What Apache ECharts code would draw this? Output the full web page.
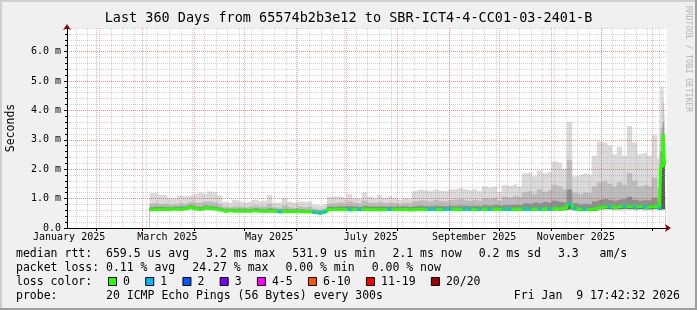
<!DOCTYPE html>
<html><head><meta charset="utf-8">
<script src="https://cdn.jsdelivr.net/npm/echarts@6/dist/echarts.min.js"></script>
<style>html,body{margin:0;padding:0;background:#f0f0f0}#c{width:697px;height:310px}</style>
</head><body><div id="c"></div>
<script>
// ---------------- data ----------------
const DAY = 86400000;
const startTime = Date.UTC(2025, 0, 14, 17, 42, 32);
const endTime = Date.UTC(2026, 0, 9, 17, 42, 32);
const firstSampleDay = 49.5;      // days after start of first sample
const sampleStepDays = 3;
const tailDays = [357.0, 358.2, 359.0];

// max ping (top of light smoke), milliseconds
const hiRtt = [1.18,1.18,1.12,1.12,1.02,1.00,1.10,1.08,1.10,1.15,
 1.20,1.15,1.23,1.20,1.10,0.88,0.85,0.95,0.90,0.85,
 0.88,0.95,0.90,0.92,1.12,0.85,0.85,1.00,0.88,0.85,
 0.90,0.88,0.90,0.78,0.75,0.80,1.05,1.07,1.05,1.00,
 1.14,1.00,0.98,1.20,1.05,1.00,1.12,1.02,1.08,1.00,
 0.95,1.00,0.98,1.25,1.30,1.28,1.25,1.30,1.26,1.25,
 1.30,1.30,1.35,1.30,1.28,1.32,1.25,1.40,1.38,1.40,
 1.22,1.45,1.42,1.48,1.40,1.85,1.88,1.75,1.95,1.85,
 1.90,2.25,2.20,2.00,3.60,1.75,1.80,1.85,1.80,2.45,
 2.93,2.90,2.80,2.50,2.75,2.45,3.45,2.90,2.50,2.55,
 2.45,3.15,2.35,
 4.80,4.80,3.40];
// upper edge of medium-gray smoke
const midRtt = [0.82,0.84,0.80,0.82,0.78,0.80,0.84,0.82,0.88,0.85,
 0.86,0.88,0.90,0.86,0.80,0.72,0.70,0.74,0.72,0.70,
 0.72,0.76,0.72,0.72,0.82,0.70,0.68,0.76,0.70,0.68,
 0.72,0.70,0.72,0.65,0.62,0.66,0.82,0.84,0.86,0.82,
 0.90,0.84,0.82,0.92,0.85,0.84,0.88,0.84,0.86,0.84,
 0.82,0.85,0.83,0.90,0.94,0.92,0.90,0.95,0.92,0.90,
 0.94,0.95,0.98,0.94,0.92,0.96,0.92,1.00,0.98,1.02,
 0.92,1.05,1.02,1.08,1.05,1.20,1.25,1.15,1.30,1.22,
 1.28,1.45,1.40,1.30,2.30,1.20,1.15,1.20,1.18,1.40,
 1.55,1.60,1.50,1.40,1.55,1.45,1.85,1.60,1.40,1.45,
 1.40,1.70,1.35,
 3.40,4.30,3.00];
// upper edge of dark smoke
const darkRtt = [0.70,0.71,0.72,0.71,0.70,0.72,0.72,0.73,0.78,0.73,
 0.71,0.76,0.74,0.72,0.68,0.64,0.65,0.64,0.65,0.64,
 0.64,0.66,0.64,0.63,0.66,0.63,0.62,0.63,0.62,0.63,
 0.62,0.61,0.61,0.59,0.57,0.61,0.72,0.71,0.73,0.72,
 0.74,0.72,0.71,0.75,0.72,0.72,0.73,0.72,0.73,0.72,
 0.72,0.73,0.71,0.74,0.75,0.74,0.73,0.75,0.74,0.73,
 0.75,0.74,0.76,0.75,0.74,0.75,0.74,0.77,0.75,0.78,
 0.75,0.78,0.77,0.79,0.78,0.84,0.82,0.86,0.83,0.88,
 0.85,0.92,0.88,0.86,1.30,0.84,0.80,0.82,0.80,0.90,
 0.95,0.98,0.94,0.92,0.96,0.98,1.05,0.95,0.92,0.94,
 0.93,1.02,0.90,
 2.60,3.60,2.50];
// median rtt
const medRtt = [0.62,0.63,0.64,0.64,0.64,0.65,0.64,0.66,0.70,0.66,
 0.64,0.68,0.66,0.65,0.62,0.58,0.59,0.58,0.58,0.58,
 0.58,0.59,0.58,0.57,0.58,0.57,0.55,0.56,0.56,0.56,
 0.56,0.55,0.55,0.53,0.51,0.55,0.63,0.63,0.64,0.63,
 0.62,0.63,0.63,0.64,0.63,0.63,0.62,0.63,0.63,0.64,
 0.63,0.63,0.62,0.63,0.64,0.63,0.63,0.64,0.63,0.63,
 0.64,0.64,0.63,0.64,0.64,0.63,0.64,0.64,0.63,0.65,
 0.64,0.64,0.63,0.64,0.65,0.64,0.64,0.65,0.64,0.65,
 0.64,0.66,0.65,0.67,0.80,0.66,0.63,0.64,0.63,0.65,
 0.70,0.71,0.72,0.70,0.72,0.73,0.72,0.71,0.72,0.70,
 0.71,0.73,0.67,
 2.10,3.20,2.10];
// min ping (bottom of smoke)
const loRtt = [0.57,0.58,0.59,0.59,0.59,0.60,0.59,0.60,0.63,0.60,
 0.59,0.62,0.60,0.60,0.57,0.53,0.54,0.53,0.53,0.53,
 0.53,0.54,0.53,0.52,0.53,0.52,0.50,0.51,0.51,0.51,
 0.51,0.50,0.50,0.48,0.46,0.50,0.58,0.58,0.59,0.58,
 0.57,0.58,0.58,0.59,0.58,0.58,0.57,0.58,0.58,0.59,
 0.58,0.58,0.57,0.58,0.59,0.58,0.58,0.59,0.58,0.58,
 0.59,0.59,0.58,0.59,0.59,0.58,0.59,0.59,0.58,0.59,
 0.58,0.59,0.58,0.58,0.59,0.58,0.58,0.59,0.58,0.59,
 0.58,0.59,0.58,0.60,0.62,0.59,0.57,0.58,0.57,0.58,
 0.62,0.63,0.63,0.62,0.63,0.64,0.63,0.62,0.63,0.62,
 0.62,0.64,0.60,
 0.62,0.62,0.62];
// lost pings out of 20
const lossCount = [0,0,0,0,0,0,0,0,0,0,
 0,0,0,0,0,0,0,0,0,0,
 0,0,0,0,0,0,1,0,0,0,
 0,0,0,1,1,1,0,0,0,0,
 1,0,1,0,0,0,0,0,1,0,
 0,0,0,0,0,0,1,1,0,1,
 1,0,0,1,1,0,1,0,1,0,
 0,1,1,0,0,1,1,0,1,0,
 1,0,0,0,1,1,0,1,0,0,
 0,0,1,0,0,1,0,1,0,1,
 0,0,1,
 0,0,0];

const lossLabels = ['0','1','2','3','4-5','6-10','11-19','20/20'];
const lossColors = ['#26ff00','#00b8ff','#0059ff','#7e00ff','#ff00ff','#ff5500','#ff0000','#a10000'];

const xLabelDates = [Date.UTC(2025,0,16), Date.UTC(2025,2,16), Date.UTC(2025,4,16),
                     Date.UTC(2025,6,16), Date.UTC(2025,8,16), Date.UTC(2025,10,16)];
const xLabels = ['January 2025','March 2025','May 2025','July 2025','September 2025','November 2025'];
const yMajorTicks = [0,1,2,3,4,5,6];
const yTickLabels = ['0.0','1.0 m','2.0 m','3.0 m','4.0 m','5.0 m','6.0 m'];

const titleText = 'Last 360 Days from 65574b2b3e12 to SBR-ICT4-4-CC01-03-2401-B';
const rttRow = ['median rtt:  659.5 us avg', '3.2 ms max', '531.9 us min', '2.1 ms now', '0.2 ms sd', '3.3   am/s'];
const lossRow = ['packet loss: 0.11 % avg', '24.27 % max', '0.00 % min', '0.00 % now'];
const lossHead = 'loss color:';
const probeRow = ['probe:       20 ICMP Echo Pings (56 Bytes) every 300s'];
const stampText = 'Fri Jan  9 17:42:32 2026';

// ---------------- build ----------------
const nReg = hiRtt.length - tailDays.length;
const times = hiRtt.map((_, i) => startTime + (i < nReg ? firstSampleDay + sampleStepDays * i : tailDays[i - nReg]) * DAY);
const pairs = arr => arr.map((v, i) => [times[i], v]);

const weekTicks = [];
for (let t = Date.UTC(2025, 0, 20); t < endTime; t += 7 * DAY) weekTicks.push(t);
const monthTicks = [];
for (let m = 1; m <= 12; m++) monthTicks.push(Date.UTC(2025, m, 1));

const mono = '"DejaVu Sans Mono", monospace';
const legendFont = '11.5px ' + mono;
const measureCtx = document.createElement('canvas').getContext('2d');
measureCtx.font = legendFont;
const textW = s => measureCtx.measureText(s).width;
const legendGap = 17, swatchGap = 15.3, legendLeft = 16;

const baseX = { type: 'value', min: startTime, max: endTime, position: 'bottom', offset: 0, z: 3,
  axisLine: { show: false }, axisLabel: { show: false }, axisTick: { show: false }, splitLine: { show: false } };
const baseY = { type: 'value', min: 0, max: 6.8, position: 'left', offset: 0, z: 3,
  axisLine: { show: false }, axisLabel: { show: false }, axisTick: { show: false }, splitLine: { show: false } };

// layered areas from the axis up to each level, painted from the outermost inward
function layer(vals, color) {
  return { type: 'line', xAxisIndex: 2, yAxisIndex: 1, data: pairs(vals), step: 'middle',
    symbol: 'none', silent: true, z: 2,
    lineStyle: { width: 0.5, color: color },
    areaStyle: { color: color, opacity: 1, origin: 'start' } };
}

const lossPts = [];
lossCount.forEach((l, i) => { if (l > 0) lossPts.push([times[i], medRtt[i], l]); });

const txt = (x, y, s, extra) => Object.assign({ type: 'text', x: x, y: y, silent: true,
  style: { text: s, font: legendFont, fill: '#000', align: 'left', verticalAlign: 'middle' } }, extra || {});

const graphics = [
  { type: 'rect', shape: { x: 0, y: 0, width: 697, height: 2 }, style: { fill: '#cfcfcf' }, silent: true },
  { type: 'rect', shape: { x: 0, y: 0, width: 2, height: 310 }, style: { fill: '#cfcfcf' }, silent: true },
  { type: 'rect', shape: { x: 0, y: 308, width: 697, height: 2 }, style: { fill: '#9e9e9e' }, silent: true },
  { type: 'rect', shape: { x: 695, y: 0, width: 2, height: 310 }, style: { fill: '#9e9e9e' }, silent: true },
  { type: 'text', x: 348.5, y: 18, silent: true, style: { text: titleText, font: '13.5px ' + mono, fill: '#000', align: 'center', verticalAlign: 'middle' } },
  { type: 'text', x: 11, y: 128, rotation: Math.PI / 2, silent: true, style: { text: 'Seconds', font: legendFont, fill: '#000', align: 'center', verticalAlign: 'middle' } },
  { type: 'text', x: 688, y: 59, rotation: -Math.PI / 2, silent: true, style: { text: 'RRDTOOL / TOBI OETIKER', font: '8px ' + mono, fill: '#b4b4b4', align: 'center', verticalAlign: 'middle' } },
  { type: 'text', x: 680, y: 296, silent: true, style: { text: stampText, font: legendFont, fill: '#000', align: 'right', verticalAlign: 'middle' } }
];
[[rttRow, 254.5], [lossRow, 268.5], [probeRow, 296]].forEach(([items, y]) => {
  let x = legendLeft;
  items.forEach(s => { graphics.push(txt(x, y, s)); x += textW(s) + legendGap; });
});
graphics.push(txt(legendLeft, 282, lossHead));
let sx = 108;
lossLabels.forEach((lab, k) => {
  graphics.push({ type: 'rect', shape: { x: sx + 0.5, y: 277.5, width: 8, height: 8 }, silent: true,
    style: { fill: lossColors[k], stroke: '#000', lineWidth: 1 } });
  graphics.push(txt(sx + 15, 282, lab));
  sx += 15 + textW(lab) + swatchGap;
});

const minorGrid = { color: 'rgba(150,150,150,0.42)', type: [1, 1], width: 1 };
const majorGrid = { color: 'rgba(255,0,0,0.35)', type: [1, 1], width: 1 };

const option = {
  animation: false,
  backgroundColor: '#f0f0f0',
  grid: { left: 67, right: 30, top: 28, bottom: 82, show: true, backgroundColor: '#ffffff', borderWidth: 0 },
  xAxis: [
    Object.assign({}, baseX, { axisTick: { show: false, customValues: weekTicks },
      splitLine: { show: true, lineStyle: minorGrid } }),
    Object.assign({}, baseX, { axisTick: { show: true, customValues: monthTicks, length: 3, lineStyle: { color: '#000' } },
      splitLine: { show: true, lineStyle: majorGrid } }),
    Object.assign({}, baseX, { z: 4,
      axisLine: { show: true, onZero: false, lineStyle: { color: '#000', width: 1 } },
      axisTick: { show: false, customValues: xLabelDates },
      axisLabel: { show: true, customValues: xLabelDates, margin: 4, color: '#000', fontFamily: 'DejaVu Sans Mono', fontSize: 10,
        formatter: v => xLabels[xLabelDates.indexOf(v)] } }),
    Object.assign({}, baseX, { z: 5,
      axisLine: { show: true, onZero: false, symbol: ['none', 'arrow'], symbolSize: [6, 6], symbolOffset: [0, 4],
        lineStyle: { color: '#8b0000', width: 0 } } })
  ],
  yAxis: [
    Object.assign({}, baseY, { interval: 0.2, axisTick: { show: true, length: 2, lineStyle: { color: '#000' } },
      splitLine: { show: true, lineStyle: minorGrid } }),
    Object.assign({}, baseY, { z: 4,
      axisLine: { show: true, onZero: false, lineStyle: { color: '#000', width: 1 } },
      axisTick: { show: true, customValues: yMajorTicks, length: 3, lineStyle: { color: '#000' } },
      axisLabel: { show: true, customValues: yMajorTicks, margin: 6, color: '#000', fontFamily: 'DejaVu Sans Mono', fontSize: 10,
        formatter: v => yTickLabels[yMajorTicks.indexOf(v)] },
      splitLine: { show: true, lineStyle: majorGrid } }),
    Object.assign({}, baseY, { z: 5,
      axisLine: { show: true, onZero: false, symbol: ['none', 'arrow'], symbolSize: [6, 6], symbolOffset: [0, 4],
        lineStyle: { color: '#8b0000', width: 0 } } })
  ],
  series: [
    layer(hiRtt, '#dadada'),
    layer(midRtt, '#bcbcbc'),
    layer(darkRtt, '#8e8e8e'),
    layer(medRtt, '#5c5c5c'),
    layer(loRtt, '#ffffff'),
    { type: 'line', xAxisIndex: 2, yAxisIndex: 1, data: pairs(medRtt), step: 'middle', symbol: 'none', z: 6, silent: true,
      lineStyle: { color: lossColors[0], width: 3 } },
    { type: 'scatter', xAxisIndex: 2, yAxisIndex: 1, data: lossPts, symbol: 'rect', symbolSize: [4, 3], z: 7, silent: true,
      itemStyle: { color: p => lossColors[p.value[2]] } }
  ],
  graphic: graphics
};
const chart = echarts.init(document.getElementById('c'), null, { renderer: 'canvas' });
chart.setOption(option);
</script></body></html>
